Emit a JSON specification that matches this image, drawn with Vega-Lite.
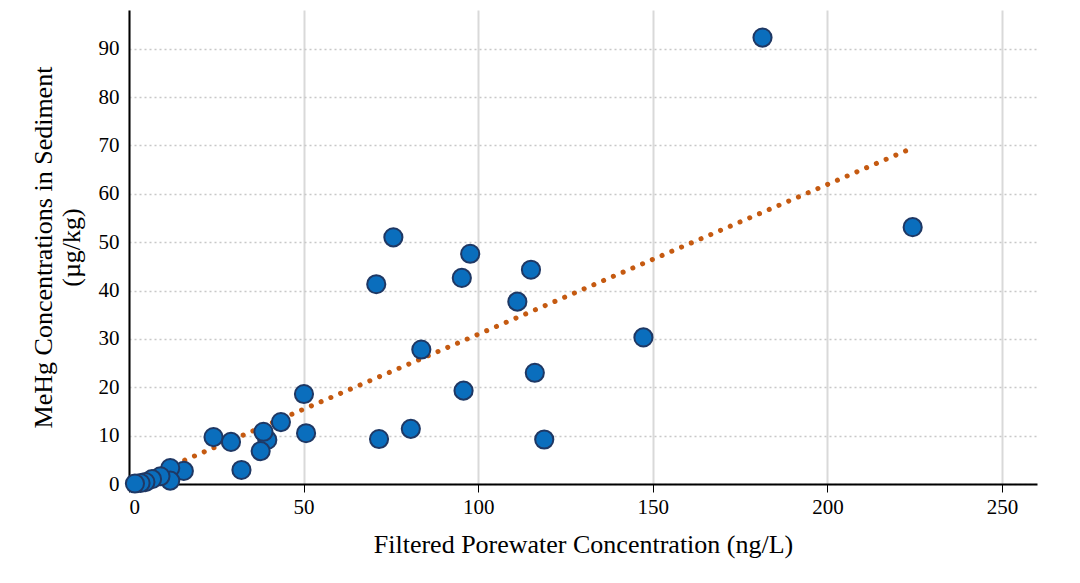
{
  "$schema": "https://vega.github.io/schema/vega-lite/v6.json",
  "width": 908,
  "height": 474,
  "padding": {"left": 30, "top": 10, "right": 5, "bottom": 5},
  "config": {
    "font": "Liberation Serif",
    "view": {"stroke": null},
    "axis": {"labelFont": "Liberation Serif", "titleFont": "Liberation Serif", "labelFontSize": 21, "titleFontSize": 26, "titleFontWeight": "normal", "labelColor": "#000", "titleColor": "#000", "domainColor": "#000", "domainWidth": 2, "tickColor": "#000"}
  },
  "datasets": {
    "pts": [
      {"x": 181.4, "y": 92.3}, {"x": 224.4, "y": 53.1}, {"x": 75.7, "y": 51.0}, {"x": 97.7, "y": 47.6},
      {"x": 70.8, "y": 41.3}, {"x": 95.3, "y": 42.6}, {"x": 115.1, "y": 44.3}, {"x": 111.2, "y": 37.7},
      {"x": 147.3, "y": 30.3}, {"x": 83.7, "y": 27.8}, {"x": 116.2, "y": 23.0}, {"x": 95.8, "y": 19.3},
      {"x": 50.1, "y": 18.6}, {"x": 50.7, "y": 10.5}, {"x": 71.6, "y": 9.3}, {"x": 80.7, "y": 11.4},
      {"x": 118.9, "y": 9.2}, {"x": 43.5, "y": 12.8}, {"x": 39.6, "y": 9.1}, {"x": 38.5, "y": 10.8},
      {"x": 37.7, "y": 6.8}, {"x": 32.2, "y": 2.9}, {"x": 29.2, "y": 8.7}, {"x": 24.2, "y": 9.7},
      {"x": 15.7, "y": 2.7}, {"x": 11.8, "y": 3.3}, {"x": 11.8, "y": 0.7}, {"x": 9.0, "y": 1.6},
      {"x": 6.6, "y": 1.0}, {"x": 4.7, "y": 0.4}, {"x": 3.3, "y": 0.2}, {"x": 1.7, "y": 0.1}
    ],
    "trend": [{"x": 2, "y": 0.6}, {"x": 222.5, "y": 68.9}]
  },
  "layer": [
    {
      "data": {"name": "trend"},
      "mark": {"type": "line", "color": "#c55a11", "strokeWidth": 5, "strokeDash": [0.1, 10.5], "strokeCap": "round"},
      "encoding": {
        "x": {"field": "x", "type": "quantitative", "scale": {"domain": [0, 250]},
          "axis": {"title": "Filtered Porewater Concentration (ng/L)", "values": [0, 50, 100, 150, 200, 250], "grid": true, "gridColor": "#d9d9d9", "gridWidth": 2, "tickSize": 8, "labelPadding": 4, "titlePadding": 14}},
        "y": {"field": "y", "type": "quantitative", "scale": {"domain": [0, 98], "nice": false},
          "axis": {"title": ["MeHg Concentrations in Sediment", "(µg/kg)"], "values": [0, 10, 20, 30, 40, 50, 60, 70, 80, 90], "grid": true, "gridColor": "#c8c8c8", "gridDash": [2, 3], "gridWidth": 1.5, "ticks": false, "labelPadding": 10, "titlePadding": 14}}
      }
    },
    {
      "data": {"name": "pts"},
      "mark": {"type": "point", "filled": true, "fill": "#0a6ebd", "stroke": "#1f3864", "strokeWidth": 2, "size": 330, "opacity": 1},
      "encoding": {
        "x": {"field": "x", "type": "quantitative"},
        "y": {"field": "y", "type": "quantitative"}
      }
    }
  ]
}
